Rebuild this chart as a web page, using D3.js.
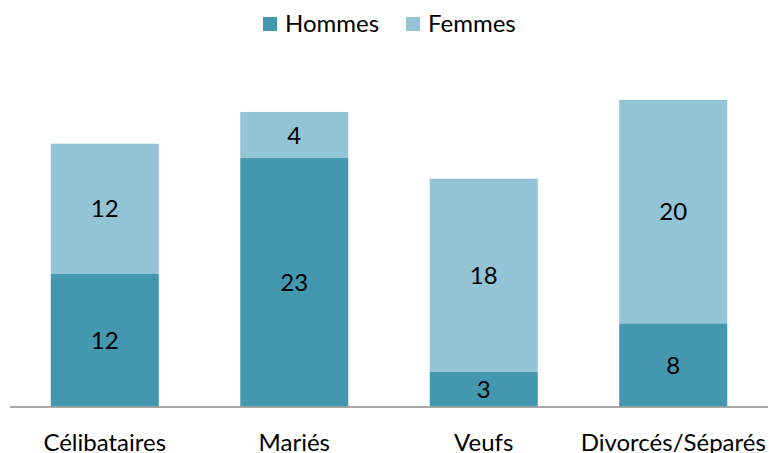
<!DOCTYPE html>
<html>
<head>
<meta charset="utf-8">
<script src="https://cdn.jsdelivr.net/npm/d3@7"></script>
<style>
  body { margin: 0; background: #fff; }
  text { font-family: Lato, "Open Sans", sans-serif; fill: #000; }
</style>
</head>
<body>
<svg id="chart"></svg>
<script>
const categories = ["Célibataires", "Mariés", "Veufs", "Divorcés/Séparés"];
const hommes = [12.1, 22.7, 3.2, 7.6];
const femmes = [11.9, 4.2, 17.6, 20.4];
const seriesNames = ["Hommes", "Femmes"];
const colors = ["#4397ae", "#93c4d5"];

const width = 769;
const height = 453;
const baseline = 406.5;

const svg = d3.select("#chart")
  .attr("width", width)
  .attr("height", height);

const rows = categories.map((c, i) => ({ cat: c, Hommes: hommes[i], Femmes: femmes[i] }));
const stacked = d3.stack().keys(seriesNames)(rows);

const x = d3.scaleBand()
  .domain(categories)
  .range([10, 768])
  .paddingInner(0.43)
  .paddingOuter(0.215);

const y = d3.scaleLinear()
  .domain([0, 30])
  .range([baseline, baseline - 30 * 10.95]);

const layers = svg.selectAll(".layer")
  .data(stacked)
  .join("g")
  .attr("class", "layer")
  .attr("fill", (d, i) => colors[i]);

layers.selectAll("rect")
  .data(d => d)
  .join("rect")
  .attr("x", d => x(d.data.cat))
  .attr("width", x.bandwidth())
  .attr("y", d => y(d[1]))
  .attr("height", d => y(d[0]) - y(d[1]));

layers.selectAll(".val")
  .data(d => d)
  .join("text")
  .attr("class", "val")
  .attr("x", d => x(d.data.cat) + x.bandwidth() / 2)
  .attr("y", d => (y(d[0]) + y(d[1])) / 2)
  .attr("dy", "0.36em")
  .attr("text-anchor", "middle")
  .style("font-size", "24px")
  .text(d => d3.format(".0f")(d[1] - d[0]));

// x axis
const xAxis = svg.append("g")
  .attr("transform", `translate(0, ${baseline})`)
  .call(d3.axisBottom(x).tickSize(0).tickPadding(27));

xAxis.select(".domain")
  .attr("d", "M10,0.5H768")
  .attr("stroke", "#8c8c8c")
  .attr("stroke-width", 1.5);

xAxis.selectAll("text")
  .style("font-family", "Lato, 'Open Sans', sans-serif")
  .style("font-size", "24px")
  .attr("fill", "#000");

// legend
const legendX = [263, 406];
const legend = svg.append("g");
const items = legend.selectAll("g")
  .data(seriesNames)
  .join("g")
  .attr("transform", (d, i) => `translate(${legendX[i]}, 17)`);

items.append("rect")
  .attr("width", 14)
  .attr("height", 14)
  .attr("fill", (d, i) => colors[i]);

items.append("text")
  .attr("x", 22)
  .attr("y", 14.5)
  .style("font-size", "24px")
  .text(d => d);
</script>
</body>
</html>
